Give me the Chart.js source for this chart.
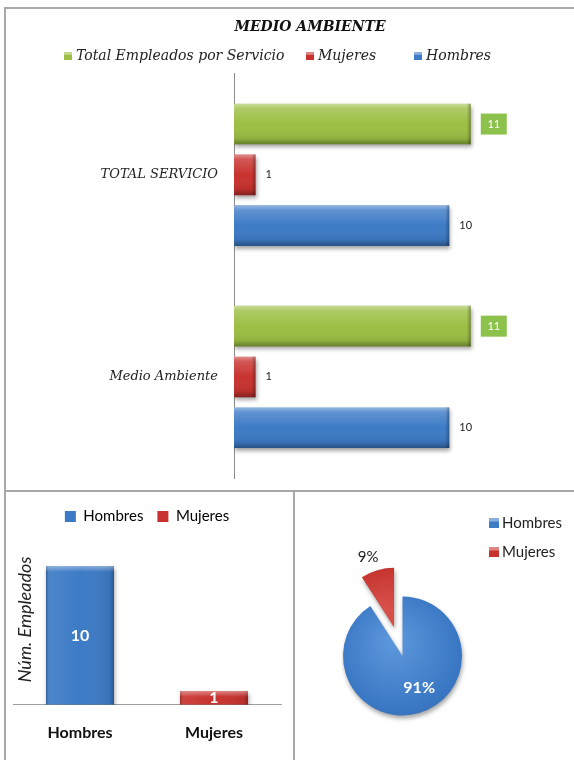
<!DOCTYPE html>
<html>
<head>
<meta charset="utf-8">
<script src="https://cdn.jsdelivr.net/npm/chart.js@4.4.1/dist/chart.umd.min.js"></script>
<style>
  body { margin: 0; background: #fff; }
  #page { position: relative; width: 574px; height: 760px; overflow: hidden; }
  .rule { position: absolute; background: #a8a8a8; }
  .box { position: absolute; }
</style>
</head>
<body>
<div id="page">
  <div class="rule" style="left:4px;top:7px;width:2px;height:760px"></div>
  <div class="rule" style="left:4px;top:7px;width:600px;height:2px"></div>
  <div class="rule" style="left:4px;top:490px;width:600px;height:2px"></div>
  <div class="rule" style="left:293px;top:490px;width:2px;height:300px"></div>
  <div class="box" style="left:5px;top:8px;width:610px;height:483px"><canvas id="serviceChart"></canvas></div>
  <div class="box" style="left:5px;top:491px;width:289px;height:269px"><canvas id="genderBars"></canvas></div>
  <div class="box" style="left:294px;top:491px;width:280px;height:269px"><canvas id="genderPie"></canvas></div>
</div>
<script>
// data
var categories = ['TOTAL SERVICIO', 'Medio Ambiente'];
var totalEmpleados = [11, 11];
var mujeres = [1, 1];
var hombres = [10, 10];
var generoLabels = ['Hombres', 'Mujeres'];
var generoValores = [10, 1];

var GREEN = '#9cbf44';
var RED = '#c8332f';
var BLUE = '#3d7bc6';
var generoColores = [BLUE, RED];

// soft drop shadow under the bars / slices
var markShadow = {
  id: 'markShadow',
  beforeDatasetsDraw: function(chart) {
    var c = chart.ctx;
    c.save();
    c.shadowColor = 'rgba(0,0,0,0.35)';
    c.shadowBlur = 4;
    c.shadowOffsetX = 1;
    c.shadowOffsetY = 3;
  },
  afterDatasetsDraw: function(chart) {
    chart.ctx.restore();
  }
};

// glossy bevel drawn over each bar
var barBevel = {
  id: 'barBevel',
  afterDatasetsDraw: function(chart) {
    var ctx = chart.ctx;
    var horizontal = chart.options.indexAxis === 'y';
    ctx.save();
    chart.data.datasets.forEach(function(ds, di) {
      chart.getDatasetMeta(di).data.forEach(function(bar) {
        var p = bar.getProps(['x', 'y', 'base', 'width', 'height'], true);
        var g;
        if (horizontal) {
          var top = p.y - p.height / 2;
          var w = p.x - p.base;
          g = ctx.createLinearGradient(0, top, 0, top + p.height);
          g.addColorStop(0, 'rgba(255,255,255,0.45)');
          g.addColorStop(0.12, 'rgba(255,255,255,0.18)');
          g.addColorStop(0.5, 'rgba(255,255,255,0)');
          g.addColorStop(0.85, 'rgba(0,0,0,0.08)');
          g.addColorStop(1, 'rgba(0,0,0,0.35)');
          ctx.fillStyle = g;
          ctx.fillRect(p.base, top, w, p.height);
          g = ctx.createLinearGradient(p.x - 4, 0, p.x, 0);
          g.addColorStop(0, 'rgba(0,0,0,0)');
          g.addColorStop(1, 'rgba(0,0,0,0.3)');
          ctx.fillStyle = g;
          ctx.fillRect(p.x - 4, top, 4, p.height);
        } else {
          var left = p.x - p.width / 2;
          var h = p.base - p.y;
          g = ctx.createLinearGradient(left, 0, left + p.width, 0);
          g.addColorStop(0, 'rgba(0,0,0,0.25)');
          g.addColorStop(0.06, 'rgba(255,255,255,0.08)');
          g.addColorStop(0.5, 'rgba(255,255,255,0)');
          g.addColorStop(0.94, 'rgba(0,0,0,0.08)');
          g.addColorStop(1, 'rgba(0,0,0,0.3)');
          ctx.fillStyle = g;
          ctx.fillRect(left, p.y, p.width, h);
          g = ctx.createLinearGradient(0, p.y, 0, p.y + 6);
          g.addColorStop(0, 'rgba(255,255,255,0.4)');
          g.addColorStop(1, 'rgba(255,255,255,0)');
          ctx.fillStyle = g;
          ctx.fillRect(left, p.y, p.width, Math.min(6, h));
        }
      });
    });
    ctx.restore();
  }
};

// pulls slices away from the centre without growing them
var explodeSlices = {
  id: 'explodeSlices',
  beforeDatasetDraw: function(chart, args, opts) {
    var ctx = chart.ctx;
    args.meta.data.forEach(function(arc, i) {
      var d = opts.distance[i] || 0;
      var mid = (arc.startAngle + arc.endAngle) / 2;
      ctx.save();
      ctx.translate(Math.cos(mid) * d, Math.sin(mid) * d);
      arc.draw(ctx);
      ctx.restore();
    });
    return false;
  }
};

// legend keys placed at fixed spots
var placedLegend = {
  id: 'placedLegend',
  afterDraw: function(chart, args, opts) {
    var ctx = chart.ctx;
    ctx.save();
    ctx.font = opts.font;
    ctx.textBaseline = 'middle';
    ctx.textAlign = 'left';
    opts.items.forEach(function(it, i) {
      var x = opts.x[i], y = opts.y[i], s = opts.box;
      ctx.fillStyle = it.color;
      ctx.fillRect(x, y - s / 2, s, s);
      ctx.fillStyle = 'rgba(255,255,255,0.4)';
      ctx.fillRect(x, y - s / 2, s, s * 0.35);
      ctx.fillStyle = opts.color;
      ctx.fillText(it.text, x + s + opts.gap, y);
    });
    ctx.restore();
  }
};

// value labels to the right of the horizontal bars
var serviceLabels = {
  id: 'serviceLabels',
  afterDatasetsDraw: function(chart) {
    var ctx = chart.ctx;
    ctx.save();
    ctx.font = '11px Lato';
    ctx.textBaseline = 'middle';
    chart.data.datasets.forEach(function(ds, di) {
      chart.getDatasetMeta(di).data.forEach(function(bar, i) {
        var txt = String(ds.data[i]);
        var x = bar.x + 10;
        if (di === 0) {
          ctx.fillStyle = '#8cc24c';
          ctx.fillRect(x, bar.y - 10.5, 26, 21);
          ctx.fillStyle = '#fff';
          ctx.textAlign = 'center';
          ctx.fillText(txt, x + 13, bar.y);
        } else {
          ctx.fillStyle = '#222';
          ctx.textAlign = 'left';
          ctx.fillText(txt, x, bar.y);
        }
      });
    });
    ctx.restore();
  }
};

// white value inside each column
var columnLabels = {
  id: 'columnLabels',
  afterDatasetsDraw: function(chart) {
    var ctx = chart.ctx;
    var ds = chart.data.datasets[0];
    ctx.save();
    ctx.font = 'bold 16px Lato';
    ctx.fillStyle = '#fff';
    ctx.textAlign = 'center';
    ctx.textBaseline = 'middle';
    chart.getDatasetMeta(0).data.forEach(function(bar, i) {
      ctx.fillText(String(ds.data[i]), bar.x, (bar.y + bar.base) / 2);
    });
    ctx.restore();
  }
};

// percentages on the pie
var pieLabels = {
  id: 'pieLabels',
  afterDatasetsDraw: function(chart) {
    var ctx = chart.ctx;
    var data = chart.data.datasets[0].data;
    var total = data.reduce(function(a, b) { return a + b; }, 0);
    ctx.save();
    ctx.textAlign = 'center';
    ctx.textBaseline = 'middle';
    chart.getDatasetMeta(0).data.forEach(function(arc, i) {
      var mid = (arc.startAngle + arc.endAngle) / 2;
      var pct = Math.round(data[i] * 100 / total) + '%';
      var r, cx = arc.x, cy = arc.y;
      if (i === 0) {
        r = arc.outerRadius * 0.6;
        mid -= 0.2;
        ctx.font = 'bold 16px Lato';
        ctx.fillStyle = '#fff';
      } else {
        r = arc.outerRadius + 45;
        mid -= 0.05;
        ctx.font = '15px Lato';
        ctx.fillStyle = '#222';
      }
      ctx.fillText(pct, cx + Math.cos(mid) * r, cy + Math.sin(mid) * r);
    });
    ctx.restore();
  }
};

new Chart(document.getElementById('serviceChart'), {
  type: 'bar',
  data: {
    labels: categories,
    datasets: [
      { label: 'Total Empleados por Servicio', data: totalEmpleados, backgroundColor: GREEN },
      { label: 'Mujeres', data: mujeres, backgroundColor: RED },
      { label: 'Hombres', data: hombres, backgroundColor: BLUE }
    ]
  },
  options: {
    indexAxis: 'y',
    responsive: true,
    maintainAspectRatio: false,
    animation: false,
    datasets: { bar: { categoryPercentage: 0.754, barPercentage: 0.8 } },
    layout: { padding: { top: 0, right: 0, bottom: 13, left: 0 } },
    scales: {
      x: { display: false, min: 0, max: 17.7 },
      y: {
        grid: { display: false, drawTicks: false },
        border: { display: true, color: '#8c8c8c' },
        ticks: { padding: 16, color: '#222', font: { family: 'DejaVu Serif', style: 'italic', size: 13 } },
        afterFit: function(s) {
          s.width = 229;
          s.paddingTop = 0;
          s.paddingBottom = 0;
        }
      }
    },
    plugins: {
      title: {
        display: true,
        text: 'MEDIO AMBIENTE',
        color: '#111',
        font: { family: 'DejaVu Serif', style: 'italic', weight: 'bold', size: 14 },
        padding: { top: 11, bottom: 38 }
      },
      legend: { display: false },
      tooltip: { enabled: false },
      placedLegend: {
        font: 'italic 14px "DejaVu Serif"',
        color: '#222',
        box: 8,
        gap: 4,
        x: [59, 301, 409],
        y: [48, 48, 48],
        items: [
          { text: 'Total Empleados por Servicio', color: GREEN },
          { text: 'Mujeres', color: RED },
          { text: 'Hombres', color: BLUE }
        ]
      }
    }
  },
  plugins: [markShadow, barBevel, serviceLabels, placedLegend]
});

new Chart(document.getElementById('genderBars'), {
  type: 'bar',
  data: {
    labels: generoLabels,
    datasets: [{ label: 'Núm. Empleados', data: generoValores, backgroundColor: generoColores }]
  },
  options: {
    responsive: true,
    maintainAspectRatio: false,
    animation: false,
    datasets: { bar: { categoryPercentage: 1, barPercentage: 0.507 } },
    layout: { padding: { top: 4, right: 13, bottom: 0, left: 8 } },
    scales: {
      x: {
        grid: { display: false, drawTicks: false },
        border: { display: true, color: '#a0a0a0' },
        ticks: { padding: 18, color: '#111', font: { family: 'Lato', weight: 'bold', size: 16 } }
      },
      y: {
        min: 0,
        max: 12.3,
        grid: { display: false, drawTicks: false },
        border: { display: false },
        ticks: { display: false },
        title: {
          display: true,
          text: 'Núm. Empleados',
          color: '#222',
          font: { family: 'Lato', style: 'italic', size: 18 },
          padding: { top: 1, bottom: 0 }
        },
        afterFit: function(s) { s.width = 0; }
      }
    },
    plugins: {
      tooltip: { enabled: false },
      legend: {
        labels: {
          boxWidth: 11,
          boxHeight: 11,
          padding: 14,
          color: '#222',
          font: { family: 'Lato', size: 15 },
          generateLabels: function(chart) {
            return chart.data.labels.map(function(l, i) {
              return { text: l, fillStyle: generoColores[i], strokeStyle: generoColores[i], lineWidth: 0, index: i, hidden: false };
            });
          }
        }
      }
    }
  },
  plugins: [markShadow, barBevel, columnLabels]
});

new Chart(document.getElementById('genderPie'), {
  type: 'pie',
  data: {
    labels: generoLabels,
    datasets: [{
      data: generoValores,
      backgroundColor: function(ctx) {
        var a = ctx.chart.chartArea;
        if (!a) return generoColores[ctx.dataIndex];
        var cx = (a.left + a.right) / 2, cy = (a.top + a.bottom) / 2;
        var g = ctx.chart.ctx.createRadialGradient(cx - 10, cy - 15, 5, cx, cy, 95);
        if (ctx.dataIndex === 0) {
          g.addColorStop(0, '#5b96dc');
          g.addColorStop(0.6, '#3b78c4');
          g.addColorStop(1, '#285f9f');
        } else {
          g.addColorStop(0, '#d8504a');
          g.addColorStop(0.6, '#c2312c');
          g.addColorStop(1, '#8e1f1c');
        }
        return g;
      },
      borderWidth: 0
    }]
  },
  options: {
    responsive: true,
    maintainAspectRatio: false,
    animation: false,
    radius: 59.5,
    layout: { padding: { top: 61, right: 63, bottom: 0, left: 0 } },
    plugins: {
      legend: { display: false },
      tooltip: { enabled: false },
      explodeSlices: { distance: [0, 30] },
      placedLegend: {
        font: '15px Lato',
        color: '#222',
        box: 10,
        gap: 3,
        x: [195, 195],
        y: [32, 61],
        items: [
          { text: generoLabels[0], color: BLUE },
          { text: generoLabels[1], color: RED }
        ]
      }
    }
  },
  plugins: [markShadow, explodeSlices, pieLabels, placedLegend]
});
</script>
</body>
</html>
